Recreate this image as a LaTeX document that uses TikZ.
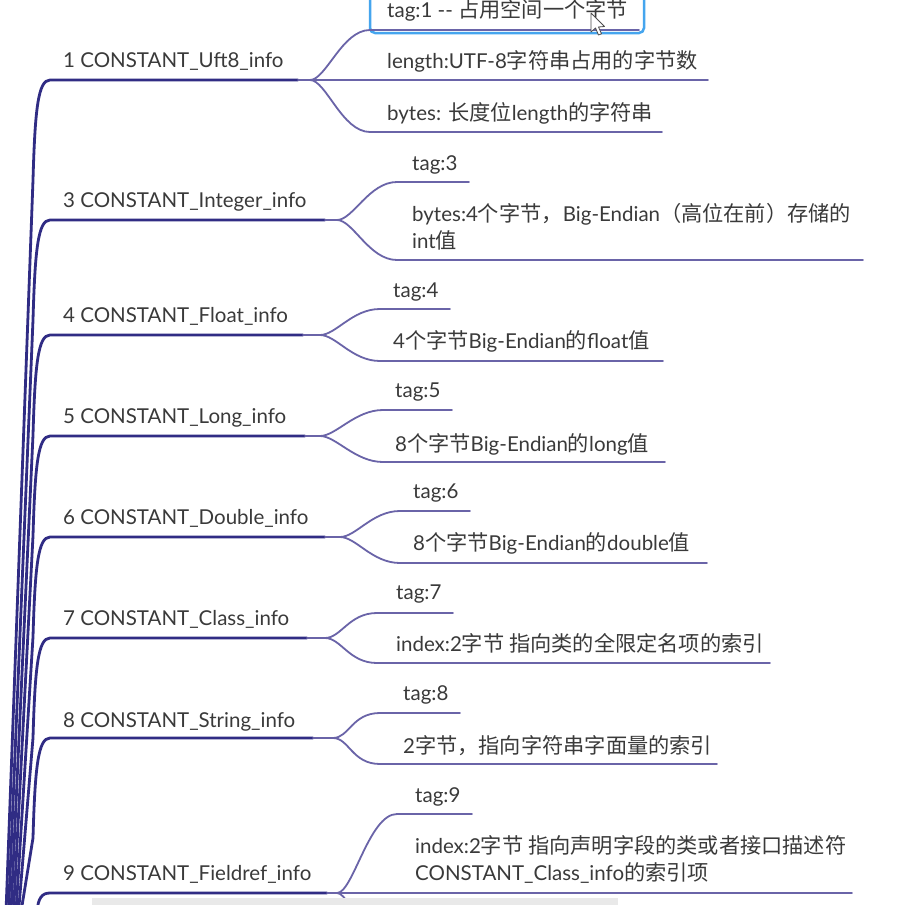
\documentclass[tikz,border=0pt]{standalone}
\usepackage{fontspec}
\setmainfont{Lato}
\newfontfamily\cjkf[Scale=1.035]{Noto Sans CJK SC}
\newcommand\zh[1]{{\cjkf #1}}
\definecolor{dk}{HTML}{302C84}
\definecolor{lt}{HTML}{6A64A8}
\definecolor{txt}{HTML}{3A3A3A}
\definecolor{selblue}{HTML}{45A5EE}
\definecolor{scrollgray}{HTML}{E9E9E9}
\tikzset{
  lbl/.style={anchor=base west, inner sep=0pt, text=txt, align=left,
    font=\fontsize{20.5}{27}\selectfont},
  lone/.style={draw=dk, line width=2.8pt, line cap=round},
  ltwo/.style={draw=lt, line width=1.8pt, line cap=round},
}
\begin{document}
\begin{tikzpicture}[x=1pt,y=-1pt]
\fill[white] (0,0) rectangle (898,905);
\useasboundingbox (0,0) rectangle (898,905);
\begin{scope}
\clip (0,0) rectangle (898,905);
% ---------- selection box around tag:1
\draw[selblue, line width=2.5pt, rounded corners=5pt] (370,-12) rectangle (644,33);

% ---------- first-level labels
\node[lbl] (n1) at (63,67.5) {1 CONSTANT\_Uft8\_info};
\node[lbl] (n3) at (63,207) {3 CONSTANT\_Integer\_info};
\node[lbl] (n4) at (63,322) {4 CONSTANT\_Float\_info};
\node[lbl] (n5) at (63,423) {5 CONSTANT\_Long\_info};
\node[lbl] (n6) at (63,524) {6 CONSTANT\_Double\_info};
\node[lbl] (n7) at (63,625) {7 CONSTANT\_Class\_info};
\node[lbl] (n8) at (63,727) {8 CONSTANT\_String\_info};
\node[lbl] (n9) at (63,880) {9 CONSTANT\_Fieldref\_info};

% ---------- second-level labels
\node[lbl] (t1a) at (387,17) {tag:1 -{}- \zh{占用空间一个字节}};
\node[lbl] (t1b) at (387,68) {length:UTF-8\zh{字符串占用的字节数}};
\node[lbl] (t1c) at (387,120) {bytes: \zh{长度位}length\zh{的字符串}};
\node[lbl] (t3a) at (412,170) {tag:3};
\node[lbl] (t3b) at (412,248) {bytes:4\zh{个字节，}Big-Endian\zh{（高位在前）存储的}\\int\zh{值}};
\node[lbl] (t4a) at (393,297) {tag:4};
\node[lbl] (t4b) at (393,348) {4\zh{个字节}Big-Endian\zh{的}float\zh{值}};
\node[lbl] (t5a) at (395,397) {tag:5};
\node[lbl] (t5b) at (395,451) {8\zh{个字节}Big-Endian\zh{的}long\zh{值}};
\node[lbl] (t6a) at (413,498) {tag:6};
\node[lbl] (t6b) at (413,550) {8\zh{个字节}Big-Endian\zh{的}double\zh{值}};
\node[lbl] (t7a) at (396,599) {tag:7};
\node[lbl] (t7b) at (396,651) {index:2\zh{字节 指向类的全限定名项的索引}};
\node[lbl] (t8a) at (403,700) {tag:8};
\node[lbl] (t8b) at (403,753) {2\zh{字节，指向字符串字面量的索引}};
\node[lbl] (t9a) at (415,802) {tag:9};
\node[lbl] (t9b) at (415,880) {index:2\zh{字节 指向声明字段的类或者接口描述符}\\CONSTANT\_Class\_info\zh{的索引项}};

% ---------- trunk coordinates (root lies below the view)
\coordinate (r1) at (6,912);   \coordinate (u1) at (50,80);  \coordinate (d1) at (298,80);  \coordinate (f1) at (310,80);
\coordinate (r3) at (8.5,912); \coordinate (u3) at (50,220); \coordinate (d3) at (325,220); \coordinate (f3) at (337,220);
\coordinate (r4) at (11,912);  \coordinate (u4) at (50,335); \coordinate (d4) at (303,335); \coordinate (f4) at (320,335);
\coordinate (r5) at (13.5,912);\coordinate (u5) at (50,436); \coordinate (d5) at (305,436); \coordinate (f5) at (320,436);
\coordinate (r6) at (16,912);  \coordinate (u6) at (50,537); \coordinate (d6) at (325,537); \coordinate (f6) at (340,537);
\coordinate (r7) at (18.5,912);\coordinate (u7) at (50,638); \coordinate (d7) at (307,638); \coordinate (f7) at (325,638);
\coordinate (r8) at (21,912);  \coordinate (u8) at (50,738); \coordinate (d8) at (313,738); \coordinate (f8) at (333,738);
\coordinate (r9) at (37,912);  \coordinate (u9) at (50,893); \coordinate (d9) at (327,893); \coordinate (f9) at (337,893);

% ---------- first-level connectors
\foreach \i in {1,3,4,5,6,7,8}{
  \draw[lone] (r\i) -- ([shift={(-17,100)}]u\i) .. controls ([shift={(-15,30)}]u\i) and ([shift={(-12,0)}]u\i) .. (u\i) -- (d\i);
  \draw[ltwo] (d\i) -- (f\i);
}
\draw[lone] (r9) .. controls ([shift={(-12,5)}]u9) and ([shift={(-8,0)}]u9) .. (u9) -- (d9);
\draw[ltwo] (d9) -- (f9);

% ---------- second-level line coordinates
\coordinate (c1aL) at (370,30);  \coordinate (c1aR) at (639,30);
\coordinate (c1bR) at (708,80);
\coordinate (c1cL) at (370,132); \coordinate (c1cR) at (662,132);
\coordinate (c3aL) at (397,182); \coordinate (c3aR) at (469,182);
\coordinate (c3bL) at (397,260); \coordinate (c3bR) at (863,260);
\coordinate (c4aL) at (380,309); \coordinate (c4aR) at (450,309);
\coordinate (c4bL) at (380,361); \coordinate (c4bR) at (663,361);
\coordinate (c5aL) at (383,410); \coordinate (c5aR) at (452,410);
\coordinate (c5bL) at (383,462); \coordinate (c5bR) at (665,462);
\coordinate (c6aL) at (400,511); \coordinate (c6aR) at (470,511);
\coordinate (c6bL) at (400,563); \coordinate (c6bR) at (707,563);
\coordinate (c7aL) at (377,613); \coordinate (c7aR) at (453,613);
\coordinate (c7bL) at (377,663); \coordinate (c7bR) at (770,663);
\coordinate (c8aL) at (380,713); \coordinate (c8aR) at (460,713);
\coordinate (c8bL) at (380,764); \coordinate (c8bR) at (717,764);
\coordinate (c9aL) at (397,814); \coordinate (c9aR) at (472,814);
\coordinate (c9bR) at (852,893);
\coordinate (c9cL) at (397,972);

% ---------- second-level connectors
\foreach \b/\c in {1/1a,1/1c,3/3a,3/3b,4/4a,4/4b,5/5a,5/5b,6/6a,6/6b,7/7a,7/7b,8/8a,8/8b,9/9a}{
  \draw[ltwo] (f\b) .. controls +(16,0) and +(-28,0) .. (c\c L) -- (c\c R);
}
\draw[ltwo] (f1) -- (c1bR);
\draw[ltwo] (f9) -- (c9bR);
\draw[ltwo] (f9) .. controls +(16,0) and +(-28,0) .. (c9cL);

% ---------- mouse cursor
\draw[fill=white, draw=black!70, line width=0.8pt, line join=round]
  (591,13) -- (591,32) -- (595.5,28) -- (598.5,35) -- (601.5,33.8) -- (598.5,27) -- (604.5,26.5) -- cycle;

% ---------- scroll bar
\fill[scrollgray] (92,898) rectangle (618,905);
\end{scope}
\end{tikzpicture}
\end{document}
